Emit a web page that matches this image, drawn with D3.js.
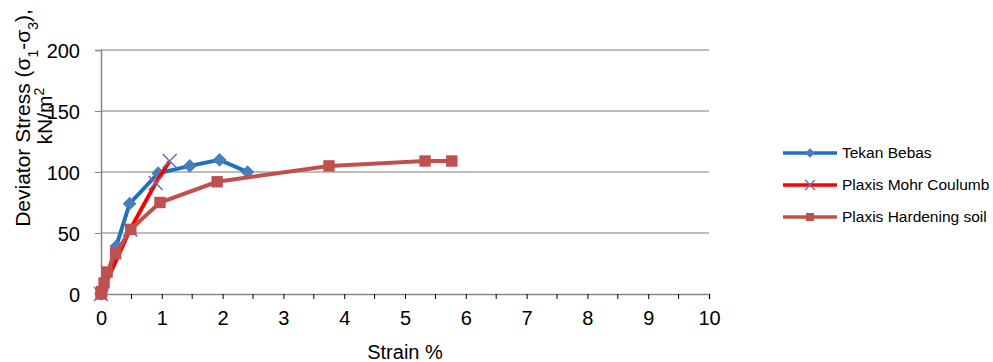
<!DOCTYPE html>
<html>
<head>
<meta charset="utf-8">
<script src="https://cdn.jsdelivr.net/npm/d3@7"></script>
<style>
  body { margin: 0; background: #fff; }
  text { font-family: "Liberation Sans", Arial, sans-serif; fill: #000; }
</style>
</head>
<body>
<svg id="chart" width="993" height="362"></svg>
<script>
var xTicks = [0, 1, 2, 3, 4, 5, 6, 7, 8, 9, 10];
var yTicks = [0, 50, 100, 150, 200];

var tekanBebas = [[0, 0], [0.02, 3], [0.25, 39], [0.47, 74], [0.94, 99], [1.46, 105], [1.95, 110], [2.41, 100]];
var mohrCoulomb = [[0, 0], [0.48, 53], [0.9, 91], [1.13, 109]];
var hardeningSoil = [[0, 0], [0.01, 2], [0.05, 9], [0.1, 18], [0.24, 33], [0.49, 53], [0.97, 75], [1.91, 92], [3.75, 105], [5.33, 109], [5.77, 109]];

var seriesNames = ["Tekan Bebas", "Plaxis Mohr Coulumb", "Plaxis Hardening soil"];

var svg = d3.select("#chart");
var x = d3.scaleLinear().domain([0, 10]).range([101, 709]);
var y = d3.scaleLinear().domain([0, 200]).range([294, 50]);

// gridlines
svg.append("g")
  .selectAll("line")
  .data(yTicks.filter(function (d) { return d > 0; }))
  .enter().append("line")
  .attr("x1", x(0)).attr("x2", x(10))
  .attr("y1", function (d) { return y(d); })
  .attr("y2", function (d) { return y(d); })
  .attr("stroke", "#a6a6a6")
  .attr("stroke-width", 1.5);

// y axis
var yAxis = svg.append("g")
  .attr("transform", "translate(" + x(0) + ",0)")
  .call(d3.axisLeft(y).tickValues(yTicks).tickSize(6).tickPadding(15));
yAxis.select(".domain").attr("stroke", "#868686").attr("stroke-width", 1.5);
yAxis.selectAll(".tick line").attr("stroke", "#868686");
yAxis.selectAll("text").style("font-size", "20px").attr("dy", "0.35em");

// x axis
var xAxis = svg.append("g")
  .attr("transform", "translate(0," + y(0) + ")")
  .call(d3.axisBottom(x).tickValues(xTicks).tickSize(5).tickPadding(12));
xAxis.select(".domain").attr("stroke", "#868686").attr("stroke-width", 1.5);
xAxis.selectAll(".tick line").attr("stroke", "#000");
xAxis.selectAll("text").style("font-size", "20px");
xAxis.selectAll(".minor")
  .data(d3.range(0.5, 10, 1))
  .enter().append("line")
  .attr("class", "minor")
  .attr("x1", function (d) { return x(d); })
  .attr("x2", function (d) { return x(d); })
  .attr("y1", 0).attr("y2", 5)
  .attr("stroke", "#000");

// axis titles
svg.append("text")
  .attr("x", x(5)).attr("y", 359)
  .attr("text-anchor", "middle")
  .style("font-size", "20px")
  .text("Strain %");

var yTitle = svg.append("text")
  .attr("transform", "translate(30,118) rotate(-90)")
  .attr("text-anchor", "middle")
  .style("font-size", "21px");
yTitle.append("tspan").text("Deviator Stress (σ");
yTitle.append("tspan").attr("baseline-shift", "sub").style("font-size", "14px").text("1");
yTitle.append("tspan").text("-σ");
yTitle.append("tspan").attr("baseline-shift", "sub").style("font-size", "14px").text("3");
yTitle.append("tspan").text("),");

var yTitle2 = svg.append("text")
  .attr("transform", "translate(52,116) rotate(-90)")
  .attr("text-anchor", "middle")
  .style("font-size", "21px");
yTitle2.append("tspan").text("kN/m");
yTitle2.append("tspan").attr("baseline-shift", "super").style("font-size", "14px").text("2");

var line = d3.line()
  .x(function (d) { return x(d[0]); })
  .y(function (d) { return y(d[1]); });

var diamond = d3.symbol().type(d3.symbolDiamond2).size(120);
var square = d3.symbol().type(d3.symbolSquare).size(130);
var cross = d3.symbol().type(d3.symbolX).size(130);

// Tekan Bebas
svg.append("path").datum(tekanBebas)
  .attr("d", line).attr("fill", "none")
  .attr("stroke", "#1f70c1").attr("stroke-width", 4);
svg.append("g").selectAll("path").data(tekanBebas).enter().append("path")
  .attr("transform", function (d) { return "translate(" + x(d[0]) + "," + y(d[1]) + ")"; })
  .attr("d", diamond).attr("fill", "#4a7ebb");

// Mohr Coulomb
svg.append("path").datum(mohrCoulomb)
  .attr("d", line).attr("fill", "none")
  .attr("stroke", "#ff0000").attr("stroke-width", 4);
svg.append("g").selectAll("path").data(mohrCoulomb).enter().append("path")
  .attr("transform", function (d) { return "translate(" + x(d[0]) + "," + y(d[1]) + ")"; })
  .attr("d", cross).attr("fill", "none")
  .attr("stroke", "#8064a2").attr("stroke-width", 1.5);

// Hardening soil
svg.append("path").datum(hardeningSoil)
  .attr("d", line).attr("fill", "none")
  .attr("stroke", "#c0504d").attr("stroke-width", 4);
svg.append("g").selectAll("path").data(hardeningSoil).enter().append("path")
  .attr("transform", function (d) { return "translate(" + x(d[0]) + "," + y(d[1]) + ")"; })
  .attr("d", square).attr("fill", "#c0504d");

// legend
var legendColors = ["#1f70c1", "#ff0000", "#c0504d"];
var legendSymbols = [diamond, cross, square];
var legend = svg.append("g").selectAll("g")
  .data(seriesNames).enter().append("g")
  .attr("transform", function (d, i) { return "translate(783," + (153 + i * 32) + ")"; });
legend.append("line")
  .attr("x1", 0).attr("x2", 54)
  .attr("stroke", function (d, i) { return legendColors[i]; })
  .attr("stroke-width", 3.5);
legend.append("path")
  .attr("transform", "translate(27,0) scale(0.7)")
  .attr("d", function (d, i) { return legendSymbols[i](); })
  .attr("fill", function (d, i) { return i === 1 ? "none" : (i === 0 ? "#4a7ebb" : "#c0504d"); })
  .attr("stroke", function (d, i) { return i === 1 ? "#8064a2" : "none"; })
  .attr("stroke-width", 2);
legend.append("text")
  .attr("x", 59).attr("dy", "0.35em")
  .style("font-size", "15.5px")
  .text(function (d) { return d; });
</script>
</body>
</html>
